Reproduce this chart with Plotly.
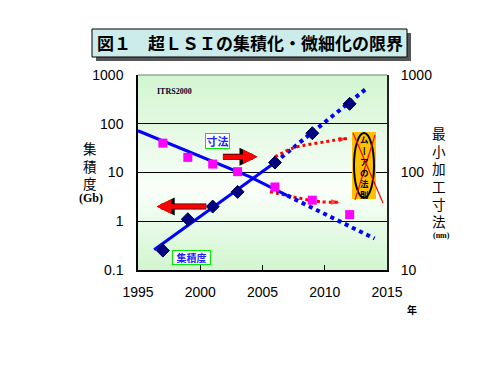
import numpy as np
import plotly.graph_objects as go

# ---------------- data ----------------
years_int = [1997, 1999, 2001, 2003, 2006, 2009, 2012]
integration_gb = [0.25, 1.1, 2.0, 4.0, 16, 64, 256]

years_dim = [1997, 1999, 2001, 2003, 2006, 2009, 2012]
dimension_nm = [200, 143, 122, 102, 71, 52, 37]

int_trend_solid_x = [1996.3, 2006]
int_trend_solid_y = [0.26, 16]
int_trend_dot_x = [2006, 2013.4]
int_trend_dot_y = [16, 540]

dim_trend_solid_x = [1995, 2004, 2007]
dim_trend_solid_y = [268, 90, 58]
dim_trend_dot_x = [2007, 2014]
dim_trend_dot_y = [58, 21]

up_arrow_x = [2006, 2007.4, 2010.1, 2011.4, 2011.8]
up_arrow_y = [20.8, 31.4, 42.9, 48.6, 50]
down_arrow_x = [2005.6, 2008.0, 2009.6, 2011.2]
down_arrow_y = [4.04, 2.96, 2.52, 2.45]

# block arrows (tail year, head year, value on left axis)
right_arrow = (2001.7, 2004.6, 21)
left_arrow = (2000.6, 1996.5, 2)

x_ticks = [1995, 2000, 2005, 2010, 2015]
left_ticks = [0.1, 1, 10, 100, 1000]
left_ticktext = ["0.1", "1", "10", "100", "1000"]
right_ticks = [10, 100, 1000]
right_ticktext = ["10", "100", "1000"]

title_text = "図１　超ＬＳＩの集積化・微細化の限界"
left_title_chars = ["集", "積", "度"]
right_title_chars = ["最", "小", "加", "工", "寸", "法"]
moore_chars = ["ム", "丨", "ア", "の", "法", "則"]

# ---------------- layout geometry ----------------
OFF = 8  # page body margin
W, H = 499 - 2 * OFF, 373 - 2 * OFF
L0, R0, T0, B0 = 138, 387, 75, 270  # plot area in page pixels
L, R, T, B = L0 - OFF, R0 - OFF, T0 - OFF, B0 - OFF


def px(xp):
    return (xp - L0) / (R0 - L0)


def py(yp):
    return (B0 - yp) / (B0 - T0)


NUM = "Liberation Sans"
CJK = "Noto Sans CJK JP"
SERIF = "Liberation Serif"

fig = go.Figure()

# trend lines
fig.add_trace(go.Scatter(x=int_trend_solid_x, y=int_trend_solid_y, mode="lines",
                         line=dict(color="#0000ff", width=3), yaxis="y", showlegend=False))
fig.add_trace(go.Scatter(x=int_trend_dot_x, y=int_trend_dot_y, mode="lines",
                         line=dict(color="#0000ff", width=4, dash="dot"), yaxis="y", showlegend=False))
fig.add_trace(go.Scatter(x=dim_trend_solid_x, y=dim_trend_solid_y, mode="lines",
                         line=dict(color="#0000ff", width=3), yaxis="y2", showlegend=False))
fig.add_trace(go.Scatter(x=dim_trend_dot_x, y=dim_trend_dot_y, mode="lines",
                         line=dict(color="#0000ff", width=4, dash="dot"), yaxis="y2", showlegend=False))

# red dotted curved arrows
for xs, ys in [(up_arrow_x, up_arrow_y), (down_arrow_x, down_arrow_y)]:
    fig.add_trace(go.Scatter(x=xs, y=ys, mode="lines", line=dict(color="#ff0000", width=3, dash="dot",
                                                                  shape="spline"),
                             yaxis="y", showlegend=False))
    fig.add_trace(go.Scatter(x=xs[-2:], y=ys[-2:], mode="markers",
                             marker=dict(symbol="arrow", angleref="previous", size=[0, 9],
                                         color="#ff0000", line=dict(width=0)),
                             yaxis="y", showlegend=False))

# markers
fig.add_trace(go.Scatter(x=years_dim, y=dimension_nm, mode="markers",
                         marker=dict(symbol="square", size=9, color="#ff00ff"),
                         yaxis="y2", showlegend=False))
fig.add_trace(go.Scatter(x=years_int, y=integration_gb, mode="markers",
                         marker=dict(symbol="diamond", size=10, color="#000080",
                                     line=dict(color="#000050", width=1)),
                         yaxis="y", showlegend=False))

shapes = []
# gradient background
N = 60
for i in range(N):
    f0 = i / N
    f1 = (i + 1) / N
    yc = T0 + (B0 - T0) * (1 - (f0 + f1) / 2)
    d = abs(yc - 190) / (190 - T0) if yc < 190 else abs(yc - 190) / (B0 - 190)
    d = min(d, 1.0)
    c0 = np.array([250, 255, 250])
    c1 = np.array([210, 246, 208])
    c = c0 + (c1 - c0) * d
    shapes.append(dict(type="rect", xref="paper", yref="paper", x0=0, x1=1, y0=f0, y1=f1 + 0.002,
                       fillcolor="rgb(%d,%d,%d)" % tuple(c.astype(int)), line=dict(width=0),
                       layer="below"))
# top border
shapes.append(dict(type="line", xref="paper", yref="paper", x0=0, x1=1, y0=1, y1=1,
                   line=dict(color="#808080", width=1)))

# title shadow + box
shapes.append(dict(type="rect", xref="paper", yref="paper",
                   x0=px(96), x1=px(411), y0=py(61), y1=py(33),
                   fillcolor="#555555", line=dict(width=0)))
shapes.append(dict(type="rect", xref="paper", yref="paper",
                   x0=px(92), x1=px(407), y0=py(57), y1=py(29),
                   fillcolor="#ccecec", line=dict(color="#000000", width=1)))

# Moore's law box
shapes.append(dict(type="rect", xref="paper", yref="paper",
                   x0=px(352), x1=px(376), y0=py(199), y1=py(132),
                   fillcolor="#ffc000", line=dict(width=0)))
shapes.append(dict(type="circle", xref="paper", yref="paper",
                   x0=px(354), x1=px(374), y0=py(198), y1=py(133),
                   fillcolor="#ffc000", line=dict(color="#000000", width=2)))

annotations = []
# title
annotations.append(dict(x=px(249.5), y=py(43), xref="paper", yref="paper", text="<b>%s</b>" % title_text,
                        showarrow=False, font=dict(family=CJK, size=17, color="#000000"),
                        xanchor="center", yanchor="middle"))

# Moore's law text (vertical)
annotations.append(dict(x=px(364), y=py(166), xref="paper", yref="paper",
                        text="<b>" + "<br>".join(moore_chars) + "</b>", showarrow=False,
                        font=dict(family=CJK, size=8.5, color="#000000"),
                        xanchor="center", yanchor="middle"))
# red X
shapes.append(dict(type="line", xref="paper", yref="paper", x0=px(353), y0=py(133), x1=px(383), y1=py(203),
                   line=dict(color="#ff0000", width=1.2)))
shapes.append(dict(type="line", xref="paper", yref="paper", x0=px(375), y0=py(135), x1=px(355), y1=py(200),
                   line=dict(color="#ff0000", width=1.2)))

# left axis title (vertical)
annotations.append(dict(x=px(90), y=py(165), xref="paper", yref="paper",
                        text="<br>".join(left_title_chars),
                        showarrow=False, font=dict(family=CJK, size=13.5, color="#000000"),
                        xanchor="center", yanchor="middle"))
annotations.append(dict(x=px(91), y=py(197.5), xref="paper", yref="paper", text="<b>(Gb)</b>",
                        showarrow=False, font=dict(family=SERIF, size=12, color="#000000"),
                        xanchor="center", yanchor="middle"))
# right axis title (vertical)
annotations.append(dict(x=px(439), y=py(177), xref="paper", yref="paper",
                        text="<br>".join(right_title_chars),
                        showarrow=False, font=dict(family=CJK, size=13.6, color="#000000"),
                        xanchor="center", yanchor="middle"))
annotations.append(dict(x=px(441), y=py(235), xref="paper", yref="paper", text="<b>(nm)</b>",
                        showarrow=False, font=dict(family=SERIF, size=8, color="#000000"),
                        xanchor="center", yanchor="middle"))
# 年
annotations.append(dict(x=px(412), y=py(309), xref="paper", yref="paper", text="<b>年</b>",
                        showarrow=False, font=dict(family=CJK, size=10, color="#000000"),
                        xanchor="center", yanchor="middle"))
# ITRS2000
annotations.append(dict(x=px(155), y=py(91), xref="paper", yref="paper", text="<b>ITRS2000</b>",
                        showarrow=False, font=dict(family=SERIF, size=8, color="#000033"),
                        xanchor="left", yanchor="middle"))
# label boxes
annotations.append(dict(x=px(217.7), y=py(141), xref="paper", yref="paper", text="<b>寸法</b>",
                        showarrow=False, font=dict(family=CJK, size=11, color="#2020ff"),
                        bgcolor="#ffffff", bordercolor="#00ee00", borderwidth=1, borderpad=0,
                        width=23, height=14, xanchor="center", yanchor="middle"))
annotations.append(dict(x=px(191.3), y=py(257.7), xref="paper", yref="paper", text="<b>集積度</b>",
                        showarrow=False, font=dict(family=CJK, size=10, color="#2020ff"),
                        bgcolor="#ffffff", bordercolor="#00ee00", borderwidth=1, borderpad=0,
                        width=37, height=13, xanchor="center", yanchor="middle"))

# block arrows (black outline under red)
for tail, head, val in [right_arrow, left_arrow]:
    for col, wid, sz in [("#000000", 6, 0.6), ("#ff0000", 4.5, 0.65)]:
        annotations.append(dict(x=head, y=np.log10(val), ax=tail, ay=np.log10(val),
                                xref="x", yref="y", axref="x", ayref="y", text="",
                                showarrow=True, arrowhead=2, arrowsize=sz,
                                arrowwidth=wid, arrowcolor=col))

fig.update_layout(
    width=W, height=H,
    margin=dict(l=L, r=W - R, t=T, b=H - B, pad=0),
    paper_bgcolor="#ffffff", plot_bgcolor="rgba(0,0,0,0)",
    shapes=shapes, annotations=annotations,
    xaxis=dict(range=[1995, 2015], tickvals=x_ticks, ticktext=[str(v) for v in x_ticks],
               ticks="inside", ticklen=5, tickcolor="#000000", showgrid=False, zeroline=False,
               showline=True, linecolor="#000000", linewidth=1.5,
               tickfont=dict(family=NUM, size=14, color="#000000"), ticklabelstandoff=8),
    yaxis=dict(type="log", range=[-1, 3], tickvals=left_ticks, ticktext=left_ticktext,
               ticks="", showgrid=True, gridcolor="#000000", gridwidth=1, zeroline=False,
               showline=True, linecolor="#000000", linewidth=1.5,
               tickfont=dict(family=NUM, size=14, color="#000000"), ticklabelstandoff=10),
    yaxis2=dict(type="log", range=[1, 3], tickvals=right_ticks, ticktext=right_ticktext,
                overlaying="y", side="right", ticks="", showgrid=False, zeroline=False,
                showline=True, linecolor="#222222", linewidth=2,
                tickfont=dict(family=NUM, size=14, color="#000000"), ticklabelstandoff=9),
    font=dict(family=NUM),
)

fig.write_html("out.html")
